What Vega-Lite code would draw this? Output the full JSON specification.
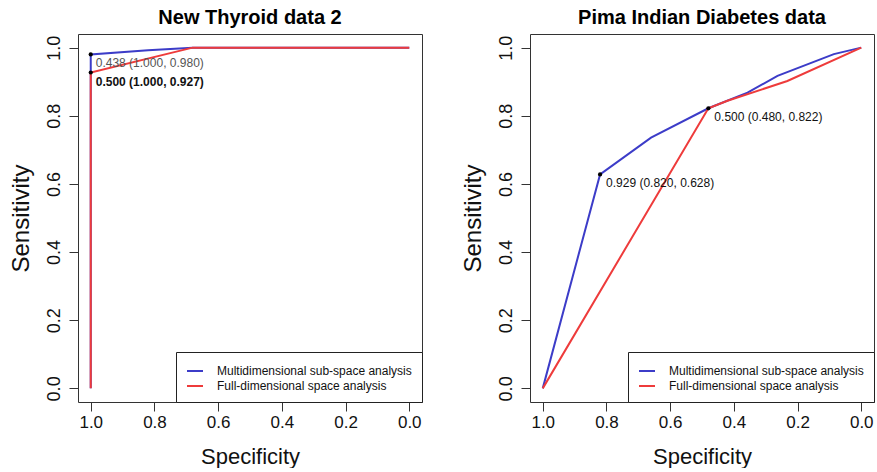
{
  "$schema": "https://vega.github.io/schema/vega-lite/v6.json",
  "padding": {"left": 8, "top": 7, "right": 0, "bottom": 0},
  "autosize": {"type": "pad"},
  "background": "white",
  "config": {
    "view": {"stroke": "#333333", "strokeWidth": 1},
    "axisX": {"domain": false, "grid": false, "tickSize": 9, "tickColor": "#333333", "labelFont": "Liberation Sans", "labelFontSize": 17, "labelColor": "#111111", "labelPadding": 3, "titleFont": "Liberation Sans", "titleFontSize": 22, "titleFontWeight": "normal", "titleColor": "#111111", "titlePadding": 16},
    "axisY": {"domain": false, "grid": false, "tickSize": 9, "tickColor": "#333333", "labelAngle": -90, "labelFont": "Liberation Sans", "labelFontSize": 18, "labelColor": "#111111", "labelPadding": 6, "titleFont": "Liberation Sans", "titleFontSize": 24, "titleFontWeight": "normal", "titleColor": "#111111", "titlePadding": 12},
    "legend": {"title": null, "strokeColor": "#222222", "fillColor": "white", "padding": 10, "symbolType": "stroke", "symbolSize": 256, "symbolStrokeWidth": 2, "labelFont": "Liberation Sans", "labelFontSize": 12, "labelColor": "#111111", "labelOffset": 13, "labelLimit": 300, "rowPadding": 0, "offset": 0, "cornerRadius": 0},
    "title": {"font": "Liberation Sans", "fontSize": 20, "fontWeight": "bold", "offset": 6, "anchor": "middle", "color": "#000000"}
  },
  "datasets": {
    "curves": [
      {"panel": "thyroid", "series": "Multidimensional sub-space analysis", "i": 1, "spec": 1.0, "sens": 0.0},
      {"panel": "thyroid", "series": "Multidimensional sub-space analysis", "i": 2, "spec": 1.0, "sens": 0.98},
      {"panel": "thyroid", "series": "Multidimensional sub-space analysis", "i": 3, "spec": 0.82, "sens": 0.992},
      {"panel": "thyroid", "series": "Multidimensional sub-space analysis", "i": 4, "spec": 0.68, "sens": 1.0},
      {"panel": "thyroid", "series": "Multidimensional sub-space analysis", "i": 5, "spec": 0.0, "sens": 1.0},
      {"panel": "thyroid", "series": "Full-dimensional space analysis", "i": 1, "spec": 1.0, "sens": 0.0},
      {"panel": "thyroid", "series": "Full-dimensional space analysis", "i": 2, "spec": 1.0, "sens": 0.927},
      {"panel": "thyroid", "series": "Full-dimensional space analysis", "i": 3, "spec": 0.68, "sens": 1.0},
      {"panel": "thyroid", "series": "Full-dimensional space analysis", "i": 4, "spec": 0.0, "sens": 1.0},
      {"panel": "pima", "series": "Multidimensional sub-space analysis", "i": 1, "spec": 1.0, "sens": 0.0},
      {"panel": "pima", "series": "Multidimensional sub-space analysis", "i": 2, "spec": 0.82, "sens": 0.628},
      {"panel": "pima", "series": "Multidimensional sub-space analysis", "i": 3, "spec": 0.66, "sens": 0.736},
      {"panel": "pima", "series": "Multidimensional sub-space analysis", "i": 4, "spec": 0.48, "sens": 0.822},
      {"panel": "pima", "series": "Multidimensional sub-space analysis", "i": 5, "spec": 0.357, "sens": 0.868},
      {"panel": "pima", "series": "Multidimensional sub-space analysis", "i": 6, "spec": 0.263, "sens": 0.917},
      {"panel": "pima", "series": "Multidimensional sub-space analysis", "i": 7, "spec": 0.086, "sens": 0.981},
      {"panel": "pima", "series": "Multidimensional sub-space analysis", "i": 8, "spec": 0.0, "sens": 1.0},
      {"panel": "pima", "series": "Full-dimensional space analysis", "i": 1, "spec": 1.0, "sens": 0.0},
      {"panel": "pima", "series": "Full-dimensional space analysis", "i": 2, "spec": 0.48, "sens": 0.822},
      {"panel": "pima", "series": "Full-dimensional space analysis", "i": 3, "spec": 0.42, "sens": 0.844},
      {"panel": "pima", "series": "Full-dimensional space analysis", "i": 4, "spec": 0.232, "sens": 0.902},
      {"panel": "pima", "series": "Full-dimensional space analysis", "i": 5, "spec": 0.0, "sens": 1.0}
    ],
    "pts": [
      {"panel": "thyroid", "key": "a", "spec": 1.0, "sens": 0.98, "label": "0.438 (1.000, 0.980)"},
      {"panel": "thyroid", "key": "b", "spec": 1.0, "sens": 0.927, "label": "0.500 (1.000, 0.927)"},
      {"panel": "pima", "key": "a", "spec": 0.82, "sens": 0.628, "label": "0.929 (0.820, 0.628)"},
      {"panel": "pima", "key": "b", "spec": 0.48, "sens": 0.822, "label": "0.500 (0.480, 0.822)"}
    ]
  },
  "spacing": 108,
  "bounds": "flush",
  "resolve": {"legend": {"color": "independent"}},
  "hconcat": [
    {
      "title": "New Thyroid data 2",
      "width": 344,
      "height": 368,
      "layer": [
        {
          "data": {"name": "curves"},
          "transform": [{"filter": "datum.panel == 'thyroid' && datum.series == 'Multidimensional sub-space analysis'"}],
          "mark": {"type": "line", "strokeWidth": 2},
          "encoding": {
            "x": {"field": "spec", "type": "quantitative", "scale": {"domain": [-0.04, 1.04], "reverse": true, "nice": false, "zero": false}, "axis": {"values": [0, 0.2, 0.4, 0.6, 0.8, 1], "format": ".1f", "title": "Specificity"}},
            "y": {"field": "sens", "type": "quantitative", "scale": {"domain": [-0.04, 1.04], "nice": false, "zero": false}, "axis": {"values": [0, 0.2, 0.4, 0.6, 0.8, 1], "format": ".1f", "title": "Sensitivity"}},
            "color": {"field": "series", "type": "nominal", "scale": {"domain": ["Multidimensional sub-space analysis", "Full-dimensional space analysis"], "range": ["#3c3cc8", "#ee3b3b"]}, "legend": {"orient": "bottom-right"}},
            "order": {"field": "i", "type": "quantitative"}
          }
        },
        {
          "data": {"name": "curves"},
          "transform": [{"filter": "datum.panel == 'thyroid' && datum.series == 'Full-dimensional space analysis'"}],
          "mark": {"type": "line", "strokeWidth": 2},
          "encoding": {
            "x": {"field": "spec", "type": "quantitative"},
            "y": {"field": "sens", "type": "quantitative"},
            "color": {"field": "series", "type": "nominal"},
            "order": {"field": "i", "type": "quantitative"}
          }
        },
        {
          "data": {"name": "pts"},
          "transform": [{"filter": "datum.panel == 'thyroid'"}],
          "mark": {"type": "circle", "size": 18, "color": "#000000", "opacity": 1},
          "encoding": {
            "x": {"field": "spec", "type": "quantitative"},
            "y": {"field": "sens", "type": "quantitative"}
          }
        },
        {
          "data": {"name": "pts"},
          "transform": [{"filter": "datum.panel == 'thyroid' && datum.key == 'a'"}],
          "mark": {"type": "text", "align": "left", "baseline": "middle", "dx": 5, "dy": 9, "font": "Liberation Sans", "fontSize": 12, "color": "#555555"},
          "encoding": {
            "x": {"field": "spec", "type": "quantitative"},
            "y": {"field": "sens", "type": "quantitative"},
            "text": {"field": "label"}
          }
        },
        {
          "data": {"name": "pts"},
          "transform": [{"filter": "datum.panel == 'thyroid' && datum.key == 'b'"}],
          "mark": {"type": "text", "align": "left", "baseline": "middle", "dx": 5, "dy": 9, "font": "Liberation Sans", "fontSize": 12, "fontWeight": "bold", "color": "#111111"},
          "encoding": {
            "x": {"field": "spec", "type": "quantitative"},
            "y": {"field": "sens", "type": "quantitative"},
            "text": {"field": "label"}
          }
        }
      ]
    },
    {
      "title": "Pima Indian Diabetes data",
      "width": 344,
      "height": 368,
      "layer": [
        {
          "data": {"name": "curves"},
          "transform": [{"filter": "datum.panel == 'pima' && datum.series == 'Multidimensional sub-space analysis'"}],
          "mark": {"type": "line", "strokeWidth": 2},
          "encoding": {
            "x": {"field": "spec", "type": "quantitative", "scale": {"domain": [-0.04, 1.04], "reverse": true, "nice": false, "zero": false}, "axis": {"values": [0, 0.2, 0.4, 0.6, 0.8, 1], "format": ".1f", "title": "Specificity"}},
            "y": {"field": "sens", "type": "quantitative", "scale": {"domain": [-0.04, 1.04], "nice": false, "zero": false}, "axis": {"values": [0, 0.2, 0.4, 0.6, 0.8, 1], "format": ".1f", "title": "Sensitivity"}},
            "color": {"field": "series", "type": "nominal", "scale": {"domain": ["Multidimensional sub-space analysis", "Full-dimensional space analysis"], "range": ["#3c3cc8", "#ee3b3b"]}, "legend": {"orient": "bottom-right"}},
            "order": {"field": "i", "type": "quantitative"}
          }
        },
        {
          "data": {"name": "curves"},
          "transform": [{"filter": "datum.panel == 'pima' && datum.series == 'Full-dimensional space analysis'"}],
          "mark": {"type": "line", "strokeWidth": 2},
          "encoding": {
            "x": {"field": "spec", "type": "quantitative"},
            "y": {"field": "sens", "type": "quantitative"},
            "color": {"field": "series", "type": "nominal"},
            "order": {"field": "i", "type": "quantitative"}
          }
        },
        {
          "data": {"name": "pts"},
          "transform": [{"filter": "datum.panel == 'pima'"}],
          "mark": {"type": "circle", "size": 18, "color": "#000000", "opacity": 1},
          "encoding": {
            "x": {"field": "spec", "type": "quantitative"},
            "y": {"field": "sens", "type": "quantitative"}
          }
        },
        {
          "data": {"name": "pts"},
          "transform": [{"filter": "datum.panel == 'pima'"}],
          "mark": {"type": "text", "align": "left", "baseline": "middle", "dx": 6, "dy": 9, "font": "Liberation Sans", "fontSize": 12, "color": "#111111"},
          "encoding": {
            "x": {"field": "spec", "type": "quantitative"},
            "y": {"field": "sens", "type": "quantitative"},
            "text": {"field": "label"}
          }
        }
      ]
    }
  ]
}
